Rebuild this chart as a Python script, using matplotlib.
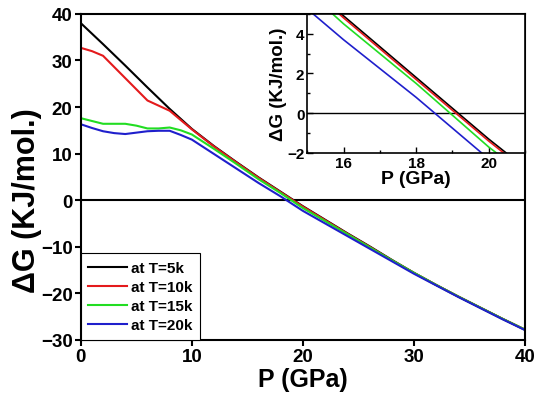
import numpy as np
import matplotlib
matplotlib.use("Agg")
import matplotlib.pyplot as plt
from matplotlib.ticker import MultipleLocator

plt.rcParams['font.family'] = ['Liberation Sans', 'DejaVu Sans']
plt.rcParams['font.weight'] = 'bold'

# pressure grid (GPa) for each curve
p_5k = [0, 2, 4, 6, 8, 10, 12, 14, 16, 18, 20, 22, 24, 26, 28, 30, 32, 34, 36, 38, 40]
g_5k = [38.0, 33.5, 28.9, 24.2, 19.6, 15.3, 11.6, 8.2, 4.9, 1.8, -1.3, -4.2, -7.1,
        -9.9, -12.8, -15.6, -18.2, -20.7, -23.1, -25.5, -27.8]

p_10k = [0, 1, 2, 4, 6, 7, 8, 9, 10, 12, 14, 16, 18, 20, 22, 24, 26, 28, 30, 32, 34, 36, 38, 40]
g_10k = [32.7, 32.0, 31.0, 26.2, 21.4, 20.3, 19.2, 17.2, 15.2, 11.5, 8.1, 4.8, 1.7, -1.4,
         -4.3, -7.2, -10.0, -12.9, -15.6, -18.2, -20.7, -23.1, -25.5, -27.8]

p_15k = [0, 1, 2, 3, 4, 5, 6, 7, 8, 9, 10, 12, 14, 16, 18, 20, 22, 24, 26, 28, 30, 32, 34, 36, 38, 40]
g_15k = [17.6, 17.0, 16.4, 16.4, 16.4, 16.0, 15.4, 15.4, 15.6, 15.0, 14.1, 11.0, 7.8, 4.5,
         1.5, -1.7, -4.5, -7.3, -10.1, -12.9, -15.6, -18.2, -20.7, -23.1, -25.5, -27.8]

p_20k = [0, 1, 2, 3, 4, 5, 6, 7, 8, 9, 10, 12, 14, 16, 18, 20, 22, 24, 26, 28, 30, 32, 34, 36, 38, 40]
g_20k = [16.3, 15.5, 14.8, 14.4, 14.2, 14.5, 14.8, 14.9, 14.9, 14.0, 13.0, 9.9, 6.8, 3.7,
         0.8, -2.3, -5.0, -7.7, -10.4, -13.1, -15.8, -18.3, -20.8, -23.2, -25.6, -27.9]

series = [(p_5k, g_5k, 'black', 'at T=5k'),
          (p_10k, g_10k, '#e41a1c', 'at T=10k'),
          (p_15k, g_15k, '#22dd22', 'at T=15k'),
          (p_20k, g_20k, '#1f1fcc', 'at T=20k')]

fig = plt.figure(figsize=(5.39, 4.02), dpi=100)
ax = fig.add_axes([0.150, 0.152, 0.824, 0.811])

ax.axhline(0, color='black', lw=1.5, zorder=1)
for p, g, c, lab in series:
    ax.plot(p, g, color=c, lw=1.5, label=lab)

ax.set_xlim(0, 40)
ax.set_ylim(-30, 40)
ax.xaxis.set_major_locator(MultipleLocator(10))
ax.yaxis.set_major_locator(MultipleLocator(10))
ax.tick_params(direction='out', width=1.5, length=4, labelsize=13.5, pad=2)
for s in ax.spines.values():
    s.set_linewidth(1.5)
ax.set_xlabel('P (GPa)', fontsize=18, fontweight='bold', labelpad=1)
ax.set_ylabel('ΔG (KJ/mol.)', fontsize=22, fontweight='bold')
ax.yaxis.set_label_coords(-0.088, 0.43)

leg = ax.legend(loc='lower left', borderaxespad=0, fontsize=11, handlelength=2.5,
                handletextpad=0.25, fancybox=False, framealpha=1,
                labelspacing=0.33, borderpad=0.5)
leg.get_frame().set_edgecolor('black')
leg.get_frame().set_linewidth(0.8)

# inset zoom around the crossing point
ins = fig.add_axes([0.570, 0.617, 0.404, 0.346])
ins.axhline(0, color='black', lw=1.0, zorder=1)
for p, g, c, lab in series:
    ins.plot(p, g, color=c, lw=1.2)
ins.set_xlim(15, 21)
ins.set_ylim(-2, 5)
ins.xaxis.set_major_locator(MultipleLocator(2))
ins.xaxis.set_minor_locator(MultipleLocator(1))
ins.yaxis.set_major_locator(MultipleLocator(2))
ins.yaxis.set_minor_locator(MultipleLocator(1))
ins.tick_params(which='both', direction='in', width=1.0, labelsize=11, pad=2)
ins.tick_params(which='major', length=4)
ins.tick_params(which='minor', length=2.5)
for s in ins.spines.values():
    s.set_linewidth(1.2)
ins.set_xlabel('P (GPa)', fontsize=14, fontweight='bold', labelpad=0)
ins.set_ylabel('ΔG (KJ/mol.)', fontsize=13.5, fontweight='bold', labelpad=0)

fig.savefig('out.png', dpi=100)
